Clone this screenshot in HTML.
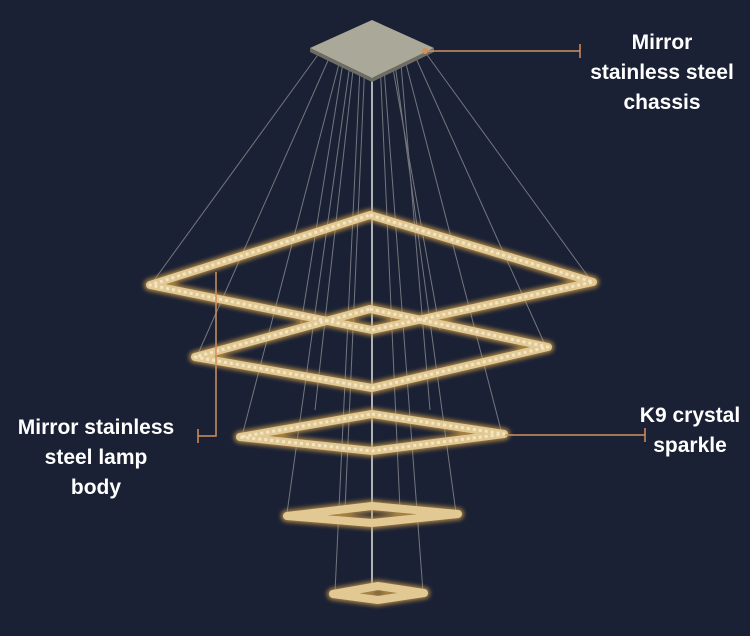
<!DOCTYPE html>
<html><head><style>
body{margin:0;background:#1b2134;width:750px;height:636px;overflow:hidden;position:relative;font-family:"Liberation Sans",sans-serif}
.l{position:absolute;color:#fff;font-size:21px;line-height:30px;text-align:center;font-weight:bold}
</style></head><body>
<svg width="750" height="636" style="position:absolute;left:0;top:0">
<defs><filter id="g"><feGaussianBlur stdDeviation="2"/></filter></defs>
<g stroke="#8a8c90" stroke-width="1" opacity="0.8">
<line x1="320" y1="52" x2="152" y2="283"/><line x1="330" y1="56" x2="197" y2="356"/>
<line x1="340" y1="60" x2="242" y2="436"/><line x1="350" y1="64" x2="287" y2="513"/>
<line x1="360" y1="68" x2="335" y2="592"/><line x1="425" y1="52" x2="592" y2="282"/>
<line x1="415" y1="56" x2="546" y2="347"/><line x1="405" y1="60" x2="502" y2="434"/>
<line x1="395" y1="64" x2="456" y2="513"/><line x1="384" y1="68" x2="423" y2="592"/>
<line x1="345" y1="50" x2="300" y2="330"/><line x1="355" y1="52" x2="315" y2="410"/>
<line x1="390" y1="52" x2="440" y2="330"/><line x1="400" y1="52" x2="430" y2="410"/>
<line x1="365" y1="60" x2="345" y2="510"/><line x1="380" y1="60" x2="400" y2="510"/>
</g>
<line x1="372" y1="70" x2="372" y2="585" stroke="#b0b2b6" stroke-width="2"/>
<polygon points="372,20 434,48 372,78 310,48" fill="#a9a899"/>
<polygon points="310,48 372,78 434,48 434,52 372,82 310,52" fill="#6e6d64"/>
<g fill="none" stroke-linejoin="round">
<g stroke="#c89a4a" stroke-width="12" filter="url(#g)" opacity="0.8">
<polygon points="370,215 593,282 372,330 150,285"/><polygon points="370,309 548,347 372,388 195,357"/>
<polygon points="372,414 504,434 372,451 240,437"/><polygon points="372,506 458,514 372,523 287,516"/>
<polygon points="378,586 424,593 378,600 333,594"/>
</g>
<g stroke="#e2c994" stroke-width="8">
<polygon points="370,215 593,282 372,330 150,285"/><polygon points="370,309 548,347 372,388 195,357"/>
<polygon points="372,414 504,434 372,451 240,437"/><polygon points="372,506 458,514 372,523 287,516"/>
<polygon points="378,586 424,593 378,600 333,594"/>
</g>
<g stroke="#f3e6c4" stroke-width="3" stroke-dasharray="3 3">
<polygon points="370,215 593,282 372,330 150,285"/><polygon points="370,309 548,347 372,388 195,357"/>
<polygon points="372,414 504,434 372,451 240,437"/>
</g>
</g>
<g stroke="#d09160" stroke-width="1.5" fill="none">
<line x1="425" y1="51" x2="580" y2="51"/><line x1="580" y1="44" x2="580" y2="58"/>
<polyline points="216,272 216,436 198,436"/><line x1="198" y1="429" x2="198" y2="443"/>
<line x1="505" y1="435" x2="645" y2="435"/><line x1="645" y1="428" x2="645" y2="442"/>
</g>
<circle cx="425" cy="51" r="3" fill="#d09160"/>
</svg>
<div class="l" style="left:572px;top:28px;width:180px">Mirror<br>stainless steel<br>chassis</div>
<div class="l" style="left:0;top:413px;width:192px">Mirror stainless<br>steel lamp<br>body</div>
<div class="l" style="left:630px;top:401px;width:120px">K9 crystal<br>sparkle</div>
</body></html>
